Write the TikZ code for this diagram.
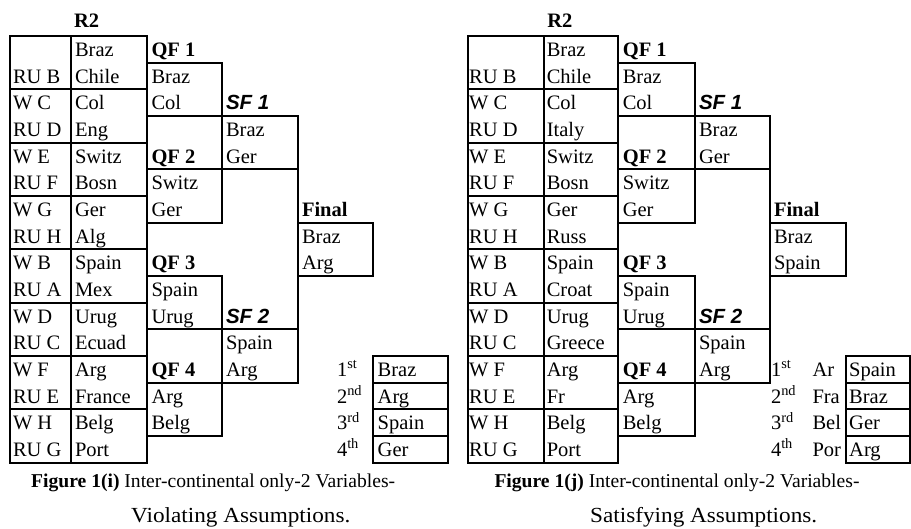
\documentclass[tikz,border=0pt]{standalone}
\usepackage{fontspec}
\setmainfont{Liberation Serif}
\newfontfamily\arialf{Liberation Sans}
\newfontfamily\capwide{Liberation Serif}[FakeStretch=1.08]
\newcommand\fs{\fontsize{20.5}{24}\selectfont}
\newcommand\capfs{\fontsize{19.6}{23}\selectfont}
\newcommand\captwofs{\capwide\fontsize{21.5}{25}\selectfont}
\newcommand\ry[1]{36+(#1)*26.6667}
\newcommand\by[1]{29.8333+(#1)*26.6667}
\newcommand\setcols[7]{\def\xa{#1}\def\xb{#2}\def\xc{#3}\def\xd{#4}\def\xe{#5}\def\xf{#6}\def\xg{#7}}
\newcommand\panelgrid{%
  \draw[grid] (\xa,36) rectangle (\xc,{\ry{16}});
  \draw[grid] (\xb,36) -- (\xb,{\ry{16}});
  \foreach \k in {2,4,...,14} \draw[grid] (\xa,{\ry{\k}}) -- (\xc,{\ry{\k}});
  \foreach \k in {1,5,9,13} \draw[grid] (\xc,{\ry{\k}}) -- (\xd,{\ry{\k}}) (\xd,{\ry{\k+2}}) -- (\xc,{\ry{\k+2}});
  \draw[grid] (\xd,{\ry{1}}) -- (\xd,{\ry{7}});
  \draw[grid] (\xd,{\ry{9}}) -- (\xd,{\ry{15}});
  \foreach \k in {3,11} \draw[grid] (\xd,{\ry{\k}}) -- (\xe,{\ry{\k}}) (\xd,{\ry{\k+2}}) -- (\xe,{\ry{\k+2}});
  \draw[grid] (\xe,{\ry{3}}) -- (\xe,{\ry{13}});
  \draw[grid] (\xe,{\ry{7}}) -- (\xf,{\ry{7}}) -- (\xf,{\ry{9}}) -- (\xe,{\ry{9}});
  \draw[grid] (\xf,{\ry{12}}) rectangle (\xg,{\ry{16}});
  \foreach \k in {13,14,15} \draw[grid] (\xf,{\ry{\k}}) -- (\xg,{\ry{\k}});
}
\tikzset{
  grid/.style={line width=2pt, line cap=rect, line join=miter},
  txt/.style={anchor=base west, inner sep=0pt, outer sep=0pt, font=\fs},
  hdr/.style={txt, font=\fs\bfseries},
  sfh/.style={txt, font=\fs\arialf\bfseries\itshape},
  captxt/.style={anchor=base west, inner sep=0pt, font=\capfs},
  captwo/.style={anchor=base west, inner sep=0pt, font=\captwofs},
}
\begin{document}
\begin{tikzpicture}[x=1pt,y=-1pt]
\useasboundingbox (0,0) rectangle (911,529);
% ---------------- left panel ----------------
\setcols{10}{71}{147}{222}{298}{372.7}{447.7}
\panelgrid
\node[hdr] (L-r2) at (\xb+3,28) {R2};
\foreach \t [count=\k from 2] in {RU B,W C,RU D,W E,RU F,W G,RU H,W B,RU A,W D,RU C,W F,RU E,W H,RU G}
  \node[txt] (L-a\k) at (\xa+3,{\by{\k}}) {\t};
\foreach \t [count=\k] in {Braz,Chile,Col,Eng,Switz,Bosn,Ger,Alg,Spain,Mex,Urug,Ecuad,Arg,France,Belg,Port}
  \node[txt] (L-b\k) at (\xb+4,{\by{\k}}) {\t};
\foreach \k/\t in {1/QF 1,5/QF 2,9/QF 3,13/QF 4}
  \node[hdr] (L-qh\k) at (\xc+4.5,{\by{\k}}) {\t};
\foreach \k/\t in {2/Braz,3/Col,6/Switz,7/Ger,10/Spain,11/Urug,14/Arg,15/Belg}
  \node[txt] (L-q\k) at (\xc+4.5,{\by{\k}}) {\t};
\foreach \k/\t in {3/SF 1,11/SF 2}
  \node[sfh] (L-sh\k) at (\xd+4,{\by{\k}}) {\t};
\foreach \k/\t in {4/Braz,5/Ger,12/Spain,13/Arg}
  \node[txt] (L-s\k) at (\xd+4,{\by{\k}}) {\t};
\node[hdr] (L-fh) at (\xe+4,{\by{7}}) {Final};
\foreach \k/\t in {8/Braz,9/Arg}
  \node[txt] (L-f\k) at (\xe+4,{\by{\k}}) {\t};
\foreach \k/\t in {13/st,14/nd,15/rd,16/th}
  \node[txt] (L-o\k) at (337,{\by{\k}}) {\the\numexpr\k-12\relax\textsuperscript{\t}};
\foreach \k/\t in {13/Braz,14/Arg,15/Spain,16/Ger}
  \node[txt] (L-p\k) at (\xf+5,{\by{\k}}) {\t};
\node[captxt] (L-cap1) at (31,487) {\textbf{Figure 1(i)} Inter-continental only-2 Variables-};
\node[captwo] (L-cap2) at (131,522) {Violating Assumptions.};
% ---------------- right panel ----------------
\setcols{467.7}{544.3}{618.3}{695}{770}{845.7}{909.5}
\panelgrid
\node[hdr] (R-r2) at (\xb+3,28) {R2};
\foreach \t [count=\k from 2] in {RU B,W C,RU D,W E,RU F,W G,RU H,W B,RU A,W D,RU C,W F,RU E,W H,RU G}
  \node[txt] (R-a\k) at (\xa+1.5,{\by{\k}}) {\t};
\foreach \t [count=\k] in {Braz,Chile,Col,Italy,Switz,Bosn,Ger,Russ,Spain,Croat,Urug,Greece,Arg,Fr,Belg,Port}
  \node[txt] (R-b\k) at (\xb+2.5,{\by{\k}}) {\t};
\foreach \k/\t in {1/QF 1,5/QF 2,9/QF 3,13/QF 4}
  \node[hdr] (R-qh\k) at (\xc+4.5,{\by{\k}}) {\t};
\foreach \k/\t in {2/Braz,3/Col,6/Switz,7/Ger,10/Spain,11/Urug,14/Arg,15/Belg}
  \node[txt] (R-q\k) at (\xc+4.5,{\by{\k}}) {\t};
\foreach \k/\t in {3/SF 1,11/SF 2}
  \node[sfh] (R-sh\k) at (\xd+4,{\by{\k}}) {\t};
\foreach \k/\t in {4/Braz,5/Ger,12/Spain,13/Arg}
  \node[txt] (R-s\k) at (\xd+4,{\by{\k}}) {\t};
\node[hdr] (R-fh) at (\xe+4,{\by{7}}) {Final};
\foreach \k/\t in {8/Braz,9/Spain}
  \node[txt] (R-f\k) at (\xe+4,{\by{\k}}) {\t};
\foreach \k/\t in {13/st,14/nd,15/rd,16/th}
  \node[txt] (R-o\k) at (771,{\by{\k}}) {\the\numexpr\k-12\relax\textsuperscript{\t}};
\foreach \k/\t in {13/Ar,14/Fra,15/Bel,16/Por}
  \node[txt] (R-c\k) at (812.5,{\by{\k}}) {\t};
\foreach \k/\t in {13/Spain,14/Braz,15/Ger,16/Arg}
  \node[txt] (R-p\k) at (\xf+3.5,{\by{\k}}) {\t};
\node[captxt] (R-cap1) at (494.3,487) {\textbf{Figure 1(j)} Inter-continental only-2 Variables-};
\node[captwo] (R-cap2) at (590,522) {Satisfying Assumptions.};
\end{tikzpicture}
\end{document}
